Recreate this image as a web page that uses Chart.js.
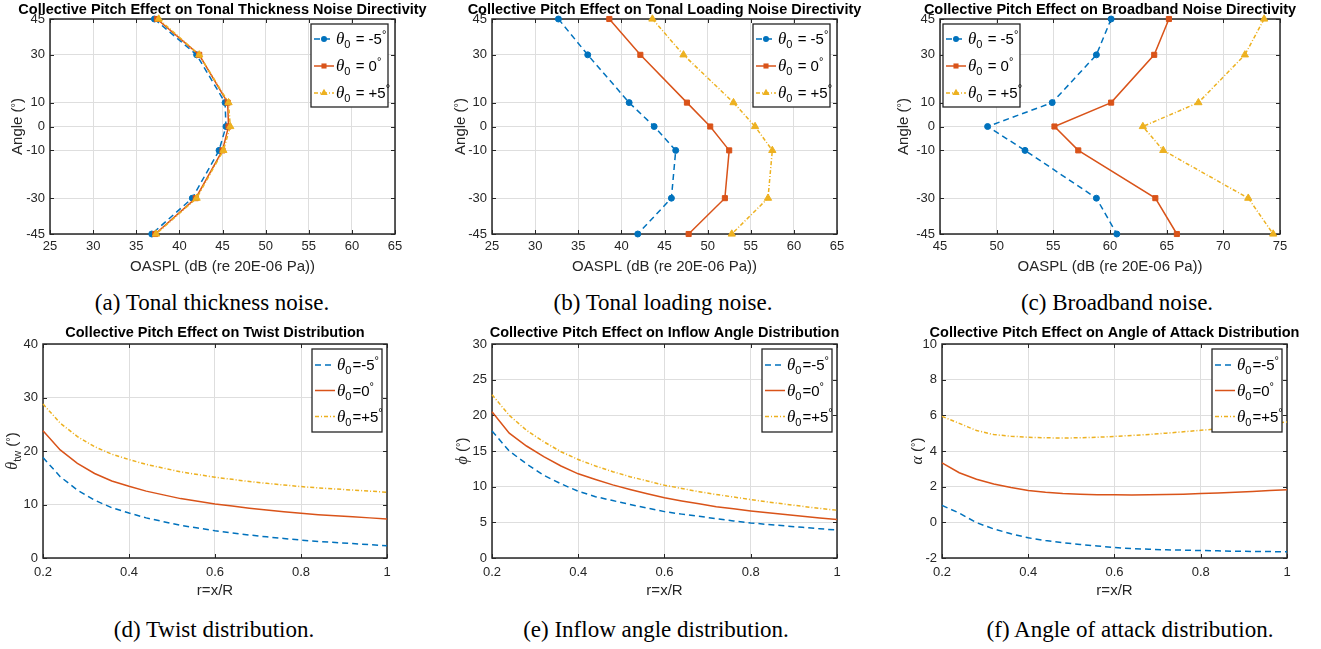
<!DOCTYPE html>
<html><head><meta charset="utf-8">
<script src="https://cdn.jsdelivr.net/npm/chart.js@4.4.1/dist/chart.umd.min.js"></script>
<style>
html,body{margin:0;padding:0;background:#fff;}
body{width:1321px;height:649px;overflow:hidden;position:relative;}
canvas{position:absolute;}
.cap{position:absolute;font-family:'Liberation Serif','Times New Roman',serif;font-size:23px;line-height:23px;color:#000;white-space:nowrap;transform:translateX(-50%);}
</style></head><body>
<div class="cap" style="left:212px;top:291px">(a) Tonal thickness noise.</div>
<div class="cap" style="left:663px;top:291px">(b) Tonal loading noise.</div>
<div class="cap" style="left:1117px;top:291px">(c) Broadband noise.</div>
<div class="cap" style="left:214px;top:618px">(d) Twist distribution.</div>
<div class="cap" style="left:656px;top:618px">(e) Inflow angle distribution.</div>
<div class="cap" style="left:1130px;top:618px">(f) Angle of attack distribution.</div>
<script>
// ---------- DATA ----------
const angles = [45, 30, 10, 0, -10, -30, -45];
const angleTicks = [-45, -30, -10, 0, 10, 30, 45];
const angleTickLabels = ['-45', '-30', '-10', '0', '10', '30', '45'];
const oasplTicksAB = [25, 30, 35, 40, 45, 50, 55, 60, 65];
const oasplTicksC = [45, 50, 55, 60, 65, 70, 75];

const thickM5 = [37.1, 42.0, 45.3, 45.4, 44.6, 41.5, 36.8];
const thick0  = [37.4, 42.3, 45.6, 45.7, 45.0, 41.9, 37.2];
const thickP5 = [37.6, 42.3, 45.7, 45.9, 45.1, 42.0, 37.3];

const loadM5 = [32.7, 36.1, 40.9, 43.8, 46.3, 45.8, 41.9];
const load0  = [38.6, 42.2, 47.6, 50.3, 52.5, 52.0, 47.8];
const loadP5 = [43.6, 47.2, 53.0, 55.5, 57.5, 57.0, 52.8];

const bbM5 = [60.1, 58.8, 54.9, 49.2, 52.5, 58.8, 60.6];
const bb0  = [65.2, 63.9, 60.1, 55.1, 57.2, 64.0, 65.9];
const bbP5 = [73.6, 71.9, 67.8, 62.9, 64.7, 72.2, 74.4];

const rPos = [0.2, 0.24, 0.28, 0.32, 0.36, 0.4, 0.44, 0.48, 0.52, 0.56, 0.6, 0.64, 0.68, 0.72, 0.76, 0.8, 0.84, 0.88, 0.92, 0.96, 1.0];
const rTicks = [0.2, 0.4, 0.6, 0.8, 1];
const rTickLabels = ['0.2', '0.4', '0.6', '0.8', '1'];

const twistM5 = [18.8, 15.2, 12.7, 10.8, 9.4, 8.4, 7.5, 6.8, 6.1, 5.6, 5.1, 4.7, 4.3, 3.95, 3.65, 3.35, 3.1, 2.9, 2.7, 2.5, 2.3];
const twist0  = [23.8, 20.2, 17.7, 15.8, 14.4, 13.4, 12.5, 11.8, 11.1, 10.6, 10.1, 9.7, 9.3, 8.95, 8.65, 8.35, 8.1, 7.9, 7.7, 7.5, 7.3];
const twistP5 = [28.8, 25.2, 22.7, 20.8, 19.4, 18.4, 17.5, 16.8, 16.1, 15.6, 15.1, 14.7, 14.3, 13.95, 13.65, 13.35, 13.1, 12.9, 12.7, 12.5, 12.3];
const twistTicks = [0, 10, 20, 30, 40];

const inflowM5 = [17.8, 15.0, 13.2, 11.6, 10.4, 9.35, 8.6, 8.05, 7.5, 7.0, 6.5, 6.15, 5.85, 5.5, 5.2, 4.92, 4.7, 4.5, 4.3, 4.1, 3.92];
const inflow0  = [20.5, 17.5, 15.7, 14.2, 12.9, 11.8, 11.0, 10.25, 9.6, 9.0, 8.45, 8.0, 7.6, 7.2, 6.9, 6.6, 6.35, 6.1, 5.85, 5.6, 5.4];
const inflowP5 = [22.9, 20.0, 17.9, 16.3, 14.9, 13.8, 12.9, 12.1, 11.4, 10.8, 10.2, 9.75, 9.3, 8.9, 8.55, 8.2, 7.85, 7.55, 7.25, 6.95, 6.7];
const inflowTicks = [0, 5, 10, 15, 20, 25, 30];

const aoaM5 = [0.95, 0.52, -0.02, -0.37, -0.64, -0.87, -1.02, -1.14, -1.24, -1.33, -1.41, -1.47, -1.51, -1.54, -1.56, -1.58, -1.60, -1.62, -1.63, -1.64, -1.65];
const aoa0  = [3.33, 2.78, 2.42, 2.15, 1.95, 1.79, 1.69, 1.62, 1.58, 1.55, 1.54, 1.53, 1.54, 1.56, 1.58, 1.61, 1.65, 1.69, 1.73, 1.78, 1.83];
const aoaP5 = [5.94, 5.55, 5.15, 4.92, 4.83, 4.77, 4.74, 4.73, 4.74, 4.77, 4.82, 4.87, 4.93, 5.0, 5.08, 5.16, 5.24, 5.33, 5.42, 5.52, 5.63];
const aoaTicks = [-2, 0, 2, 4, 6, 8, 10];

const legendValues = ['-5', '0', '+5'];

// ---------- STYLE ----------
const FONT = "'Liberation Sans', Arial, Helvetica, sans-serif";
const SERIF = "'Liberation Serif', 'Times New Roman', serif";
const DARK = '#262626';
const GRID = '#dedede';
const seriesStyle = [
  {color: '#0072BD', dash: [6, 4], marker: 'circle', r: 3, order: 2},
  {color: '#D95319', dash: [], marker: 'rect', r: 3.6, order: 1},
  {color: '#EDB120', dash: [4, 2, 1, 2], marker: 'triangle', r: 4.2, order: 0}
];

function drawRich(ctx, segs, x, y, align) {
  let w = 0;
  for (const s of segs) { ctx.font = s.f; w += ctx.measureText(s.t).width + (s.sp || 0); }
  let cx = align === 'center' ? x - w / 2 : (align === 'right' ? x - w : x);
  ctx.textAlign = 'left'; ctx.textBaseline = 'alphabetic';
  for (const s of segs) {
    ctx.font = s.f;
    ctx.fillText(s.t, cx, y + (s.dy || 0));
    cx += ctx.measureText(s.t).width + (s.sp || 0);
  }
}

function ylabelSegs(kind) {
  const tail = [
    {t: ' (', f: `15px ${FONT}`},
    {t: '°', f: `11px ${FONT}`, dy: -3},
    {t: ')', f: `15px ${FONT}`}
  ];
  if (kind === 'angle') return [{t: 'Angle', f: `15px ${FONT}`}].concat(tail);
  if (kind === 'twist') return [{t: 'θ', f: `italic 16px ${SERIF}`}, {t: 'tw', f: `11px ${FONT}`, dy: 4}].concat(tail);
  if (kind === 'phi') return [{t: 'ϕ', f: `italic 16px ${SERIF}`}].concat(tail);
  return [{t: 'α', f: `italic 16px ${SERIF}`}].concat(tail);
}

function legendSegs(v, compact) {
  const sep = compact ? '=' : ' = ';
  return [
    {t: 'θ', f: `italic 17px ${SERIF}`},
    {t: '0', f: `11px ${FONT}`, dy: 4, sp: 1},
    {t: sep + v, f: `15px ${FONT}`},
    {t: '°', f: `11px ${FONT}`, dy: -6}
  ];
}

function drawMarker(ctx, st, x, y) {
  ctx.fillStyle = st.color;
  ctx.beginPath();
  if (st.marker === 'circle') {
    ctx.arc(x, y, st.r, 0, Math.PI * 2);
  } else if (st.marker === 'rect') {
    const h = st.r * Math.SQRT1_2;
    ctx.rect(x - h, y - h, 2 * h, 2 * h);
  } else {
    const r = st.r;
    ctx.moveTo(x, y - r);
    ctx.lineTo(x + r * 0.866, y + r * 0.5);
    ctx.lineTo(x - r * 0.866, y + r * 0.5);
    ctx.closePath();
  }
  ctx.fill();
}

function makeDecor(P, cl, ct) {
  return {
    id: 'decor' + P.id,
    beforeDatasetsDraw(chart) {
      const ctx = chart.ctx, a = chart.chartArea;
      const xs = chart.scales.x, ys = chart.scales.y;
      ctx.save();
      ctx.strokeStyle = DARK; ctx.lineWidth = 1;
      ctx.beginPath();
      for (const t of xs.ticks) {
        const px = Math.round(xs.getPixelForValue(t.value)) + 0.5;
        ctx.moveTo(px, a.bottom); ctx.lineTo(px, a.bottom - 4);
        ctx.moveTo(px, a.top); ctx.lineTo(px, a.top + 4);
      }
      for (const t of ys.ticks) {
        const py = Math.round(ys.getPixelForValue(t.value)) + 0.5;
        ctx.moveTo(a.left, py); ctx.lineTo(a.left + 4, py);
        ctx.moveTo(a.right, py); ctx.lineTo(a.right - 4, py);
      }
      ctx.stroke();
      ctx.lineWidth = 1.5;
      ctx.strokeRect(a.left, a.top, a.right - a.left, a.bottom - a.top);
      ctx.restore();
    },
    afterDatasetsDraw(chart) {
      const ctx = chart.ctx, a = chart.chartArea;
      ctx.save();
      // title
      ctx.fillStyle = '#000';
      ctx.font = `bold 14.5px ${FONT}`;
      ctx.textAlign = 'center'; ctx.textBaseline = 'alphabetic';
      ctx.fillText(P.title, (a.left + a.right) / 2, a.top - P.titleOff + 5);
      // y label
      ctx.fillStyle = DARK;
      ctx.save();
      ctx.translate(P.ylabelX - cl, (a.top + a.bottom) / 2);
      ctx.rotate(-Math.PI / 2);
      drawRich(ctx, ylabelSegs(P.ylabel), 0, 5, 'center');
      ctx.restore();
      // legend
      const g = P.legend;
      const x0 = g.x - cl, y0 = g.y - ct;
      ctx.fillStyle = '#fff';
      ctx.fillRect(x0, y0, g.w, g.h);
      ctx.strokeStyle = DARK; ctx.lineWidth = 1.3;
      ctx.strokeRect(x0, y0, g.w, g.h);
      seriesStyle.forEach((st, k) => {
        const yy = y0 + g.rows[k];
        ctx.strokeStyle = st.color; ctx.lineWidth = 1.5; ctx.setLineDash(st.dash);
        ctx.beginPath(); ctx.moveTo(x0 + 3, yy); ctx.lineTo(x0 + 23, yy); ctx.stroke();
        ctx.setLineDash([]);
        if (P.markers) drawMarker(ctx, st, x0 + 13, yy);
        ctx.fillStyle = '#000';
        drawRich(ctx, legendSegs(legendValues[k], P.compact), x0 + 25, yy + 5, 'left');
      });
      ctx.restore();
    }
  };
}

function makePanel(P) {
  const cl = P.L - 60, ct = P.T - 30;
  const cw = (P.R - P.L) + 60 + 35, ch = (P.B - P.T) + 30 + 50;
  const cv = document.createElement('canvas');
  cv.width = cw; cv.height = ch;
  cv.style.left = cl + 'px'; cv.style.top = ct + 'px';
  cv.style.width = cw + 'px'; cv.style.height = ch + 'px';
  document.body.appendChild(cv);
  const datasets = P.series.map((vals, k) => {
    const st = seriesStyle[k];
    const data = P.horizontal
      ? P.ys.map((y, i) => ({x: vals[i], y: y}))
      : P.xs.map((x, i) => ({x: x, y: vals[i]}));
    return {
      label: legendValues[k], data: data, showLine: true,
      borderColor: st.color, backgroundColor: st.color, borderWidth: 1.5, borderDash: st.dash,
      pointStyle: st.marker, pointRadius: P.markers ? st.r : 0,
      pointBackgroundColor: st.color, pointBorderColor: st.color, pointBorderWidth: 1,
      tension: 0, clip: false, order: st.order
    };
  });
  new Chart(cv, {
    type: 'scatter',
    data: {datasets: datasets},
    options: {
      responsive: false, animation: false, devicePixelRatio: 1, events: [],
      layout: {padding: {left: 0, top: 30, right: 35, bottom: 0}},
      plugins: {legend: {display: false}, tooltip: {enabled: false}, title: {display: false}},
      scales: {
        x: {
          type: 'linear', min: P.xTicks[0], max: P.xTicks[P.xTicks.length - 1],
          afterBuildTicks: s => { s.ticks = P.xTicks.map(v => ({value: v})); },
          afterFit: s => { s.height = 50; },
          grid: {color: GRID, lineWidth: 1, drawTicks: false},
          border: {display: false},
          ticks: {autoSkip: false, maxRotation: 0, padding: P.xpad, color: DARK,
                  font: {family: FONT, size: 13}, callback: (v, i) => P.xLabels[i]},
          title: {display: true, text: P.xlabel, color: DARK, font: {family: FONT, size: 15},
                  padding: {top: 0, bottom: 8}}
        },
        y: {
          type: 'linear', min: P.yTicks[0], max: P.yTicks[P.yTicks.length - 1],
          afterBuildTicks: s => { s.ticks = P.yTicks.map(v => ({value: v})); },
          afterFit: s => { s.width = 60; },
          grid: {color: GRID, lineWidth: 1, drawTicks: false},
          border: {display: false},
          ticks: {autoSkip: false, padding: 5, color: DARK,
                  font: {family: FONT, size: 13}, callback: (v, i) => P.yLabels[i]},
          title: {display: false}
        }
      }
    },
    plugins: [makeDecor(P, cl, ct)]
  });
}

const topLeg = (x) => ({x: x, y: 24, w: 77, h: 83, rows: [15, 42, 69]});
const botLeg = (x) => ({x: x, y: 349, w: 70, h: 83, rows: [16, 41.5, 67.5]});

const panels = [
  {id: 'a', L: 50, R: 395, T: 19, B: 234, titleOff: 10.5, xpad: 5, horizontal: true, markers: true, compact: false,
   title: 'Collective Pitch Effect on Tonal Thickness Noise Directivity', xlabel: 'OASPL (dB (re 20E-06 Pa))',
   ylabel: 'angle', ylabelX: 17, xTicks: oasplTicksAB, xLabels: oasplTicksAB.map(String),
   yTicks: angleTicks, yLabels: angleTickLabels, ys: angles, series: [thickM5, thick0, thickP5], legend: topLeg(311)},
  {id: 'b', L: 492, R: 837, T: 19, B: 234, titleOff: 10.5, xpad: 5, horizontal: true, markers: true, compact: false,
   title: 'Collective Pitch Effect on Tonal Loading Noise Directivity', xlabel: 'OASPL (dB (re 20E-06 Pa))',
   ylabel: 'angle', ylabelX: 460, xTicks: oasplTicksAB, xLabels: oasplTicksAB.map(String),
   yTicks: angleTicks, yLabels: angleTickLabels, ys: angles, series: [loadM5, load0, loadP5], legend: topLeg(753)},
  {id: 'c', L: 940, R: 1280, T: 19, B: 234, titleOff: 10.5, xpad: 5, horizontal: true, markers: true, compact: false,
   title: 'Collective Pitch Effect on Broadband Noise Directivity', xlabel: 'OASPL (dB (re 20E-06 Pa))',
   ylabel: 'angle', ylabelX: 903, xTicks: oasplTicksC, xLabels: oasplTicksC.map(String),
   yTicks: angleTicks, yLabels: angleTickLabels, ys: angles, series: [bbM5, bb0, bbP5], legend: topLeg(943)},
  {id: 'd', L: 43, R: 387, T: 344, B: 558, titleOff: 12, xpad: 7, horizontal: false, markers: false, compact: true,
   title: 'Collective Pitch Effect on Twist Distribution', xlabel: 'r=x/R',
   ylabel: 'twist', ylabelX: 12, xTicks: rTicks, xLabels: rTickLabels,
   yTicks: twistTicks, yLabels: twistTicks.map(String), xs: rPos, series: [twistM5, twist0, twistP5], legend: botLeg(312)},
  {id: 'e', L: 492, R: 837, T: 344, B: 558, titleOff: 12, xpad: 7, horizontal: false, markers: false, compact: true,
   title: 'Collective Pitch Effect on Inflow Angle Distribution', xlabel: 'r=x/R',
   ylabel: 'phi', ylabelX: 462, xTicks: rTicks, xLabels: rTickLabels,
   yTicks: inflowTicks, yLabels: inflowTicks.map(String), xs: rPos, series: [inflowM5, inflow0, inflowP5], legend: botLeg(762)},
  {id: 'f', L: 942, R: 1287, T: 344, B: 558, titleOff: 12, xpad: 7, horizontal: false, markers: false, compact: true,
   title: 'Collective Pitch Effect on Angle of Attack Distribution', xlabel: 'r=x/R',
   ylabel: 'alpha', ylabelX: 917, xTicks: rTicks, xLabels: rTickLabels,
   yTicks: aoaTicks, yLabels: aoaTicks.map(String), xs: rPos, series: [aoaM5, aoa0, aoaP5], legend: botLeg(1212)}
];

panels.forEach(makePanel);
</script>
</body></html>
